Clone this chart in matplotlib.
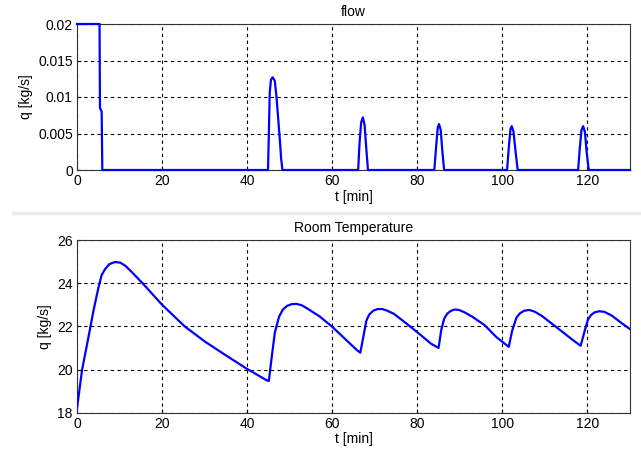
import matplotlib
matplotlib.use("Agg")
import matplotlib.pyplot as plt
from matplotlib.lines import Line2D

plt.rcParams['font.family'] = ['Liberation Sans', 'DejaVu Sans']

# ---- data ----
flow_t = [0, 5.3, 5.4, 5.8, 5.95,
          44.9, 45.1, 45.3, 45.6, 46.0, 46.5, 46.9, 47.3, 47.7, 48.0, 48.3,
          66.1, 66.4, 66.8, 67.2, 67.6, 68.0, 68.4,
          84.0, 84.4, 84.8, 85.1, 85.5, 85.9, 86.3,
          101.1, 101.5, 101.9, 102.2, 102.6, 103.1, 103.6,
          117.8, 118.2, 118.6, 119.0, 119.4, 119.8, 120.3,
          130]
flow_q = [0.02, 0.02, 0.0085, 0.008, 0.0,
          0.0, 0.005, 0.0105, 0.0124, 0.0127, 0.0122, 0.0100, 0.0070, 0.0040, 0.0015, 0.0,
          0.0, 0.0035, 0.0065, 0.0072, 0.0062, 0.0030, 0.0,
          0.0, 0.0030, 0.0058, 0.0063, 0.0055, 0.0025, 0.0,
          0.0, 0.0030, 0.0056, 0.0060, 0.0053, 0.0025, 0.0,
          0.0, 0.0030, 0.0055, 0.0060, 0.0052, 0.0025, 0.0,
          0.0]

temp_t = [0, 1.2, 2.4, 3.9, 5.0, 5.8, 6.6, 7.6, 8.9, 10.2, 11.4, 12.7, 15.4, 20.0, 25.3, 30.1, 34.9, 39.8, 44.6, 45.1,
          45.6, 46.5, 47.5, 48.4, 49.4, 50.5, 51.6, 52.8, 54.2, 57.1, 60.0, 62.9, 65.8, 66.6,
          67.3, 68.0, 68.7, 69.6, 70.6, 71.8, 73.0, 74.5, 77.4, 80.3, 83.2, 85.0,
          85.6, 86.3, 87.0, 87.9, 88.8, 89.8, 91.0, 92.9, 95.8, 98.6, 101.5,
          102.3, 103.3, 104.1, 105.1, 106.3, 107.6, 109.3, 113.1, 117.0, 118.4,
          119.4, 120.1, 120.8, 121.7, 122.8, 124.0, 125.7, 128.1, 130.3]
temp_T = [18.2, 20.0, 21.2, 22.75, 23.76, 24.38, 24.65, 24.88, 24.98, 24.95, 24.8, 24.55, 24.0, 23.0, 22.0, 21.29, 20.67, 20.05, 19.5, 19.47,
          20.3, 21.7, 22.45, 22.78, 22.95, 23.03, 23.04, 22.98, 22.82, 22.45, 21.98, 21.44, 20.9, 20.78,
          21.5, 22.25, 22.55, 22.72, 22.8, 22.8, 22.72, 22.58, 22.14, 21.68, 21.2, 21.0,
          21.8, 22.35, 22.58, 22.72, 22.78, 22.76, 22.66, 22.45, 22.06, 21.5, 21.05,
          21.8, 22.4, 22.6, 22.72, 22.76, 22.68, 22.48, 21.9, 21.3, 21.1,
          21.83, 22.3, 22.52, 22.65, 22.7, 22.67, 22.5, 22.14, 21.83]

x_ticks = [0, 20, 40, 60, 80, 100, 120]
flow_yticks = [0, 0.005, 0.01, 0.015, 0.02]
flow_ylabels = ['0', '0.005', '0.01', '0.015', '0.02']
temp_yticks = [18, 20, 22, 24, 26]

FS = 10
fig = plt.figure(figsize=(6.41, 4.53), dpi=100)
W, H = 641.0, 453.0
ax1 = fig.add_axes([77 / W, (H - 170) / H, (630 - 77) / W, 146 / H])
ax2 = fig.add_axes([77 / W, (H - 412.7) / H, (630 - 77) / W, 172.7 / H])

def style(ax):
    ax.grid(True, color='black', linestyle=(0, (3, 3)), linewidth=0.8)
    ax.tick_params(direction='in', length=3, labelsize=FS, colors='black', pad=3)
    for s in ax.spines.values():
        s.set_color('#333333')
        s.set_linewidth(0.8)
    ax.set_xlim(0, 130)
    ax.set_xticks(x_ticks)
    ax.set_xlabel('t [min]', fontsize=FS, labelpad=1)
    ax.set_ylabel('q [kg/s]', fontsize=FS, labelpad=4)

ax1.plot(flow_t, flow_q, color='#0000ff', lw=1.6, clip_on=False, zorder=5)
style(ax1)
ax1.set_ylim(0, 0.02)
ax1.set_yticks(flow_yticks)
ax1.set_yticklabels(flow_ylabels)
ax1.set_title('flow', fontsize=FS, pad=6)

ax2.plot(temp_t, temp_T, color='#0000ff', lw=1.6, zorder=5)
style(ax2)
ax2.set_ylim(18, 26)
ax2.set_yticks(temp_yticks)
ax2.set_title('Room Temperature', fontsize=FS, pad=6)

fig.add_artist(Line2D([13 / W, 1.0], [(H - 213) / H] * 2, color='#ececec', lw=2.5))

fig.savefig('out.png', dpi=100)
